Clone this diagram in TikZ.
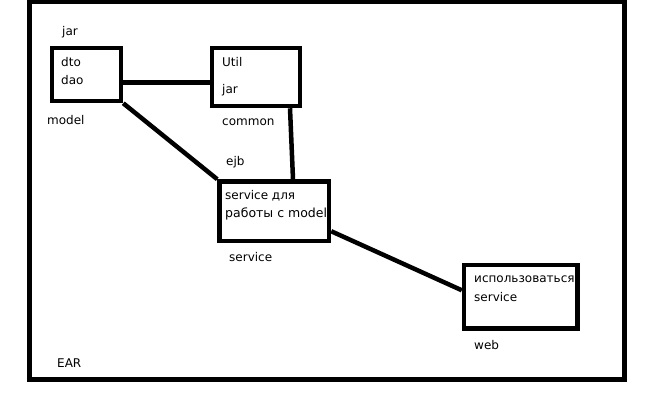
\documentclass[tikz,border=0pt]{standalone}
\usepackage{fontspec}
\setmainfont{DejaVu Sans}
\begin{document}
\begin{tikzpicture}[x=1pt,y=-1pt,
  box/.style={draw=black,line width=4.5pt,minimum width=#1,inner sep=0pt,rectangle},
  conn/.style={draw=black,line width=4.5pt},
  lbl/.style={anchor=west,inner sep=0pt,font=\fontsize{12}{14}\selectfont}]
\useasboundingbox (0,0) rectangle (653,408);
\node[draw=black,line width=4.5pt,minimum width=595pt,minimum height=377.5pt,inner sep=0pt] (ear) at (327,190.75) {};
\node[box=69pt,minimum height=53pt] (model) at (86.5,74.5) {};
\node[box=88pt,minimum height=58pt] (util) at (256,77) {};
\node[box=109.5pt,minimum height=59.5pt] (service) at (274.25,211.25) {};
\node[box=113.5pt,minimum height=63.5pt] (web) at (520.75,296.75) {};
\draw[conn] ([yshift=-8pt]model.east) -- ([yshift=-5.5pt]util.west);
\draw[conn] (model.south east) -- (service.north west);
\draw[conn] ([xshift=34pt]util.south) -- ([xshift=18.75pt]service.north);
\draw[conn] ([yshift=-20pt]service.east) -- ([yshift=6.5pt]web.west);
\node[lbl] (tjar) at (62,32) {jar};
\node[lbl] (tdto) at (61,62) {dto};
\node[lbl] (tdao) at (61,80) {dao};
\node[lbl] (tmodel) at (47,120) {model};
\node[lbl] (tutil) at (222,62) {Util};
\node[lbl] (tujar) at (222,90) {jar};
\node[lbl] (tcommon) at (222,122) {common};
\node[lbl] (tejb) at (226,162) {ejb};
\begin{scope}
\clip (220,182) rectangle (327,240);
\node[lbl] (ts1) at (225,196) {service для};
\node[lbl,font=\fontsize{12.5}{14}\selectfont] (ts2) at (225,214) {работы с model};
\end{scope}
\node[lbl] (tservice) at (229,257) {service};
\node[lbl] (tw1) at (474,279) {использоваться};
\node[lbl] (tw2) at (474,297) {service};
\node[lbl] (tweb) at (474,345) {web};
\node[lbl] (tear) at (57,363) {EAR};
\end{tikzpicture}
\end{document}
